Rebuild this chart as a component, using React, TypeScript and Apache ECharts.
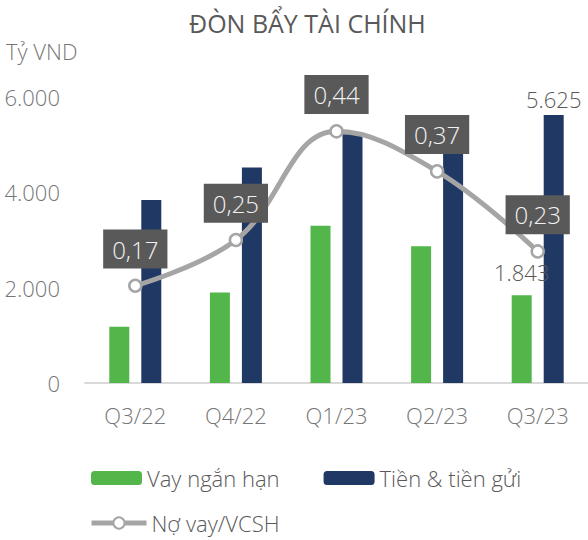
import React, { useEffect, useRef } from "react";
import * as echarts from "echarts";

const categories = ["Q3/22", "Q4/22", "Q1/23", "Q2/23", "Q3/23"];
const vayNganHan = [1180, 1900, 3300, 2870, 1843];
const tienGui = [3840, 4520, 5220, 4900, 5625];
const noVayVCSH = [0.17, 0.25, 0.44, 0.37, 0.23];
const yTicks = [0, 2000, 4000, 6000];

const FONT = "'Open Sans', 'Noto Sans', sans-serif";
const GREEN = "#52B64A";
const NAVY = "#203864";
const GRAY = "#A5A5A5";
const TEXT = "#595959";
const AXIS_TEXT = "#767676";

const fmtThousand = (v: number) =>
  String(Math.round(v)).replace(/\B(?=(\d{3})+(?!\d))/g, ".");

export default function App() {
  const ref = useRef<HTMLDivElement>(null);
  useEffect(() => {
    if (!ref.current) return;
    const chart = echarts.init(ref.current, undefined, { renderer: "svg" });
    const last = categories.length - 1;
    chart.setOption({
      animation: false,
      textStyle: { fontFamily: FONT, fontWeight: 300 },
      title: {
        text: "ĐÒN BẨY TÀI CHÍNH",
        left: 189,
        top: 10,
        padding: 0,
        textStyle: { fontFamily: FONT, fontSize: 25, fontWeight: 400, color: TEXT },
      },
      graphic: [
        {
          type: "text",
          left: 6,
          top: 40,
          style: { text: "Tỷ VND", fontFamily: FONT, fontSize: 22, fontWeight: 300, fill: AXIS_TEXT },
        },
      ],
      legend: [
        {
          left: 91,
          top: 467,
          padding: 0,
          itemWidth: 51,
          itemHeight: 14,
          itemGap: 44,
          data: ["Vay ngắn hạn", "Tiền & tiền gửi"],
          textStyle: { fontFamily: FONT, fontSize: 22, fontWeight: 300, color: TEXT },
        },
        {
          left: 89,
          top: 512,
          padding: 0,
          itemWidth: 55,
          itemHeight: 14,
          lineStyle: { width: 5, color: GRAY },
          itemStyle: { color: "#FFFFFF", borderColor: GRAY, borderWidth: 2 },
          data: ["Nợ vay/VCSH"],
          textStyle: { fontFamily: FONT, fontSize: 22, fontWeight: 300, color: TEXT },
        },
      ],
      grid: { left: 85, width: 503, top: 97, bottom: 157, containLabel: false },
      xAxis: {
        type: "category",
        data: categories,
        axisLine: { lineStyle: { color: "#D9D9D9", width: 2 } },
        axisTick: { show: false },
        axisLabel: { fontFamily: FONT, fontSize: 22, fontWeight: 300, color: AXIS_TEXT, margin: 21 },
      },
      yAxis: [
        {
          type: "value",
          min: yTicks[0],
          max: yTicks[yTicks.length - 1],
          interval: yTicks[1] - yTicks[0],
          splitLine: { show: false },
          axisLine: { show: false },
          axisTick: { show: false },
          axisLabel: {
            fontFamily: FONT,
            fontSize: 22,
            fontWeight: 300,
            color: AXIS_TEXT,
            margin: 25,
            formatter: (v: number) => fmtThousand(v),
          },
        },
        { type: "value", min: 0, max: 0.5, show: false, splitLine: { show: false } },
      ],
      series: [
        {
          name: "Vay ngắn hạn",
          type: "bar",
          barWidth: 20,
          barGap: "60%",
          itemStyle: { color: GREEN },
          data: vayNganHan.map((v, i) =>
            i === last
              ? {
                  value: v,
                  label: {
                    show: true,
                    position: "top",
                    distance: 12,
                    fontFamily: FONT,
                    fontSize: 22,
                    fontWeight: 300,
                    color: TEXT,
                    formatter: () => fmtThousand(v),
                  },
                }
              : v
          ),
        },
        {
          name: "Tiền & tiền gửi",
          type: "bar",
          barWidth: 20,
          itemStyle: { color: NAVY },
          data: tienGui.map((v, i) =>
            i === last
              ? {
                  value: v,
                  label: {
                    show: true,
                    position: "top",
                    distance: 5,
                    fontFamily: FONT,
                    fontSize: 22,
                    fontWeight: 300,
                    color: TEXT,
                    formatter: () => fmtThousand(v),
                  },
                }
              : v
          ),
        },
        {
          name: "Nợ vay/VCSH",
          type: "line",
          yAxisIndex: 1,
          smooth: 0.4,
          symbol: "circle",
          symbolSize: 12,
          z: 5,
          lineStyle: { color: GRAY, width: 5 },
          itemStyle: { color: "#FFFFFF", borderColor: GRAY, borderWidth: 2.5 },
          label: {
            show: true,
            position: "top",
            distance: 10,
            backgroundColor: "#595959",
            padding: [6, 9, 6, 9],
            lineHeight: 27,
            fontFamily: FONT,
            fontSize: 24,
            fontWeight: 300,
            color: "#F2F2F2",
            formatter: (p: any) => Number(p.value).toFixed(2).replace(".", ","),
          },
          data: noVayVCSH,
        },
      ],
    });
    return () => chart.dispose();
  }, []);
  return (
    <div
      ref={ref}
      style={{ position: "fixed", left: 0, top: 0, width: 588, height: 540, background: "#fff" }}
    />
  );
}
